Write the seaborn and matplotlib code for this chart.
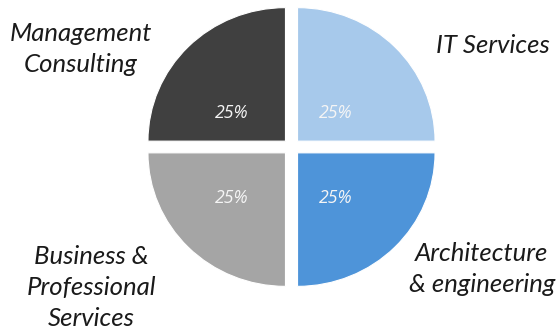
import matplotlib
matplotlib.use("Agg")
import matplotlib.pyplot as plt
import seaborn as sns

# Service mix (share of revenue), drawn clockwise from 12 o'clock
segments = ["IT Services", "Architecture\n& engineering",
            "Business &\nProfessional\nServices", "Management\nConsulting"]
shares = [25, 25, 25, 25]
slice_colors = ["#A7C9EB", "#4E94D9", "#A5A5A5", "#404040"]

sns.set_theme(style="white")
plt.rcParams["font.family"] = ["Lato", "DejaVu Sans"]

fig = plt.figure(figsize=(5.59, 3.33), dpi=100)
ax = fig.add_axes([0, 0, 1, 1])

wedges, _, autotexts = ax.pie(
    shares,
    colors=slice_colors,
    startangle=90,
    counterclock=False,
    explode=[0.062] * len(shares),
    radius=1.0,
    autopct="%d%%",
    pctdistance=0.52,
    wedgeprops=dict(edgecolor="white", linewidth=0.8),
    textprops=dict(color="#F5F5F5", fontsize=12.8, fontstyle="italic",
                   family=["Open Sans", "DejaVu Sans"]),
)

# Percentage labels sit toward the lower-left of each slice
pct_spots = [(0.324, 0.252), (0.324, -0.385), (-0.436, -0.385), (-0.436, 0.252)]
for t, pos in zip(autotexts, pct_spots):
    t.set_position(pos)

# Category names placed around the pie
label_spots = [
    (1.880, 0.760, "right"),
    (1.385, -0.915, "center"),
    (-1.458, -1.052, "center"),
    (-1.531, 0.735, "center"),
]
for name, (x, y, ha) in zip(segments, label_spots):
    ax.text(x, y, name, ha=ha, va="center", fontsize=18.5, fontstyle="italic",
            color="#1A1A1A", linespacing=1.4)

ax.set_xlim(-291.5 / 137.5, (559 - 291.5) / 137.5)
ax.set_ylim(-(333 - 147) / 133.5, 147 / 133.5)
ax.set_aspect("auto")
ax.axis("off")

fig.savefig("out.png", dpi=100, facecolor="white")
